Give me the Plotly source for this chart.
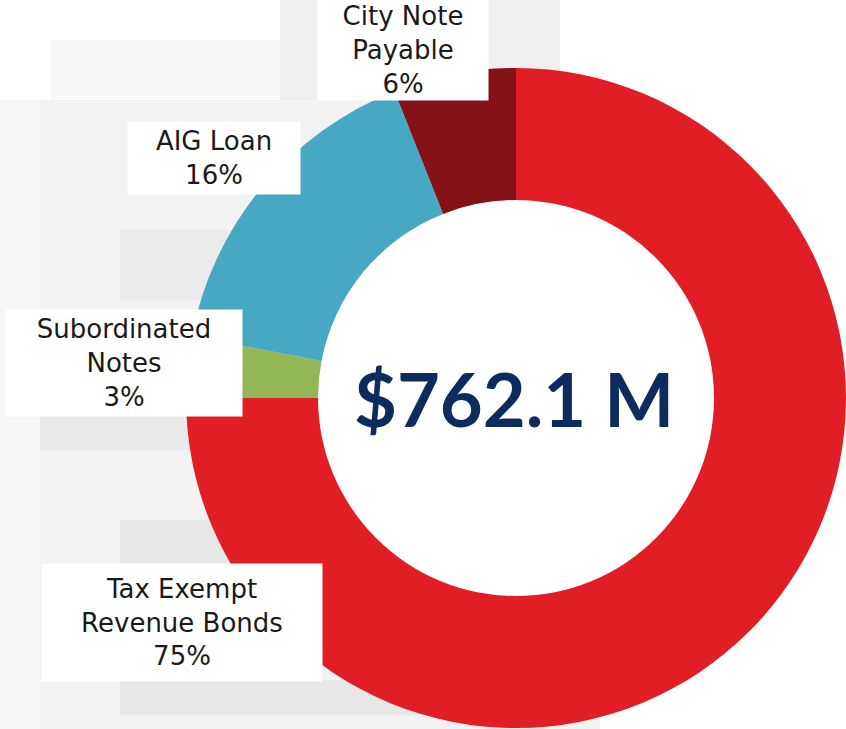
import plotly.graph_objects as go

W, H = 846, 729

# data (clockwise from 12 o'clock)
labels = ["Tax Exempt<br>Revenue Bonds", "Subordinated<br>Notes", "AIG Loan", "City Note<br>Payable"]
shares = [75, 3, 16, 6]
colors = ["#E11D25", "#93B657", "#47A8C3", "#841216"]
total_label = "$762.1 M"

# label boxes in pixels: centre x, centre y (from top), width, height
label_box = [(182, 622, 280, 117), (124, 363, 236, 106), (214, 158, 172, 72), (403, 50, 170, 100)]

# faint grey mosaic behind the chart: x0, y0, x1, y1 (pixels), colour
backdrop = [
    (40, 100, 600, 729, "#F2F2F2"),
    (120, 230, 600, 300, "#EBEBEB"),
    (40, 400, 600, 450, "#E9E9E9"),
    (120, 520, 600, 565, "#E8E8E8"),
    (120, 680, 600, 715, "#E8E8E8"),
    (0, 100, 40, 729, "#F7F7F7"),
    (280, 0, 560, 100, "#EFEFEF"),
    (50, 40, 280, 100, "#F8F8F8"),
]


def px(x, y):
    return x / W, 1 - y / H


cx, cy, r = 516, 398, 330
fig = go.Figure(go.Pie(
    labels=labels,
    values=shares,
    hole=0.6,
    sort=False,
    direction="clockwise",
    rotation=0,
    textinfo="none",
    hoverinfo="label+percent",
    marker=dict(colors=colors, line=dict(width=0)),
    domain=dict(x=[(cx - r) / W, (cx + r) / W], y=[1 - (cy + r) / H, 1 - (cy - r) / H]),
    showlegend=False,
))

for x0, y0, x1, y1, c in backdrop:
    a0, b1 = px(x0, y0)
    a1, b0 = px(x1, y1)
    fig.add_shape(type="rect", xref="paper", yref="paper", x0=a0, x1=a1, y0=b0, y1=b1,
                  fillcolor=c, line=dict(width=0), layer="below")

# white inner hole over the backdrop
fig.add_shape(type="circle", xref="paper", yref="paper",
              x0=(cx - r * 0.6) / W, x1=(cx + r * 0.6) / W,
              y0=1 - (cy + r * 0.6) / H, y1=1 - (cy - r * 0.6) / H,
              fillcolor="white", line=dict(width=0), layer="below")

for lab, val, (x, y, bw, bh) in zip(labels, shares, label_box):
    xp, yp = px(x, y)
    fig.add_annotation(
        x=xp, y=yp, xref="paper", yref="paper", xanchor="center", yanchor="middle",
        text=f"{lab}<br>{val}%", showarrow=False, width=bw, height=bh,
        font=dict(family="DejaVu Sans, sans-serif", size=26, color="#1a1a1a"),
        bgcolor="white", borderpad=0, align="center", valign="middle",
    )

xp, yp = px(cx - 2, cy)
fig.add_annotation(
    x=xp, y=yp, xref="paper", yref="paper", xanchor="center", yanchor="middle",
    text=f"<b>{total_label}</b>",
    showarrow=False, font=dict(family="Lato, sans-serif", size=74, color="#0B2C5C"),
)

fig.update_layout(
    width=W, height=H,
    margin=dict(l=0, r=0, t=0, b=0),
    paper_bgcolor="white", plot_bgcolor="white",
)

fig.write_html("out.html", config={"displayModeBar": False},
               post_script="document.body.style.margin='0';")
